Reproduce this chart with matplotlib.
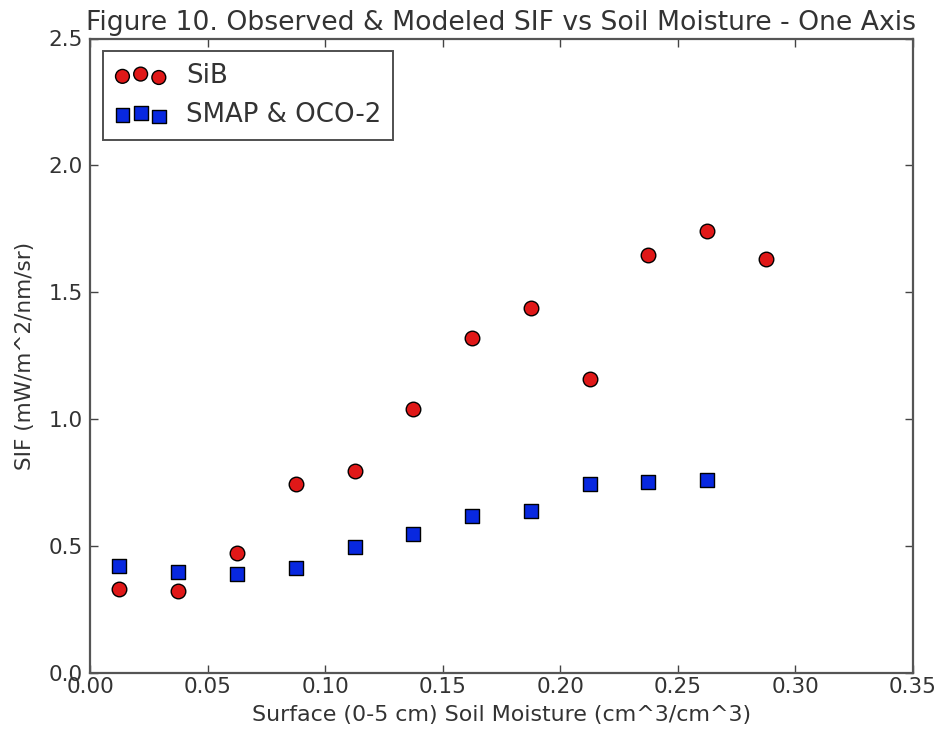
import matplotlib
matplotlib.use("Agg")
import matplotlib.pyplot as plt

# Data
soil_moisture_sib = [0.0125, 0.0375, 0.0625, 0.0875, 0.1125, 0.1375,
                     0.1625, 0.1875, 0.2125, 0.2375, 0.2625, 0.2875]
sif_sib = [0.329, 0.325, 0.473, 0.744, 0.796, 1.040,
           1.319, 1.437, 1.160, 1.648, 1.741, 1.631]

soil_moisture_obs = [0.0125, 0.0375, 0.0625, 0.0875, 0.1125, 0.1375,
                     0.1625, 0.1875, 0.2125, 0.2375, 0.2625]
sif_obs = [0.420, 0.398, 0.391, 0.413, 0.496, 0.549,
           0.617, 0.638, 0.744, 0.753, 0.760]

x_ticks = [0.00, 0.05, 0.10, 0.15, 0.20, 0.25, 0.30, 0.35]
y_ticks = [0.0, 0.5, 1.0, 1.5, 2.0, 2.5]

title = "Figure 10. Observed & Modeled SIF vs Soil Moisture - One Axis"
xlabel = "Surface (0-5 cm) Soil Moisture (cm^3/cm^3)"
ylabel = "SIF (mW/m^2/nm/sr)"

plt.rcParams['font.family'] = ['DejaVu Sans']
W, H = 941, 742
fig = plt.figure(figsize=(W / 100, H / 100), dpi=100)
left, right, top, bottom = 90, 913, 38.5, 673
ax = fig.add_axes([left / W, 1 - bottom / H, (right - left) / W, (bottom - top) / H])

red = '#e01818'
blue = '#0828e0'
ax.scatter(soil_moisture_sib, sif_sib, s=110, c=red, marker='o',
           edgecolors='black', linewidths=1.0, label='SiB', zorder=3)
ax.scatter(soil_moisture_obs, sif_obs, s=110, c=blue, marker='s',
           edgecolors='black', linewidths=1.0, label='SMAP & OCO-2', zorder=3)

ax.set_xlim(0, 0.35)
ax.set_ylim(0, 2.5)
ax.set_xticks(x_ticks)
ax.set_yticks(y_ticks)
ax.set_xticklabels([f"{v:.2f}" for v in x_ticks])
ax.set_yticklabels([f"{v:.1f}" for v in y_ticks])

text_color = '#333333'
ax.tick_params(direction='in', length=6, width=1, top=True, right=True,
               labelsize=15.5, colors='#444444', labelcolor=text_color)
ax.tick_params(axis='x', pad=3)
ax.tick_params(axis='y', pad=5)
for sp in ax.spines.values():
    sp.set_color('#555555')
    sp.set_linewidth(1.6)

ax.set_title(title, fontsize=19.2, color=text_color, pad=6)
ax.set_xlabel(xlabel, fontsize=15.9, color=text_color, labelpad=6)
ax.set_ylabel(ylabel, fontsize=15.5, color=text_color, labelpad=10)

leg = ax.legend(loc='upper left', scatterpoints=3,
                scatteryoffsets=[0.375, 0.5, 0.3125], fontsize=18.7,
                frameon=True, fancybox=False, borderaxespad=0.5,
                handletextpad=0.75, labelspacing=0.5, borderpad=0.45,
                handlelength=2.0, markerscale=0.95)
frame = leg.get_frame()
frame.set_edgecolor('#222222')
frame.set_linewidth(1.4)
for t in leg.get_texts():
    t.set_color(text_color)

fig.savefig("out.png", dpi=100)
